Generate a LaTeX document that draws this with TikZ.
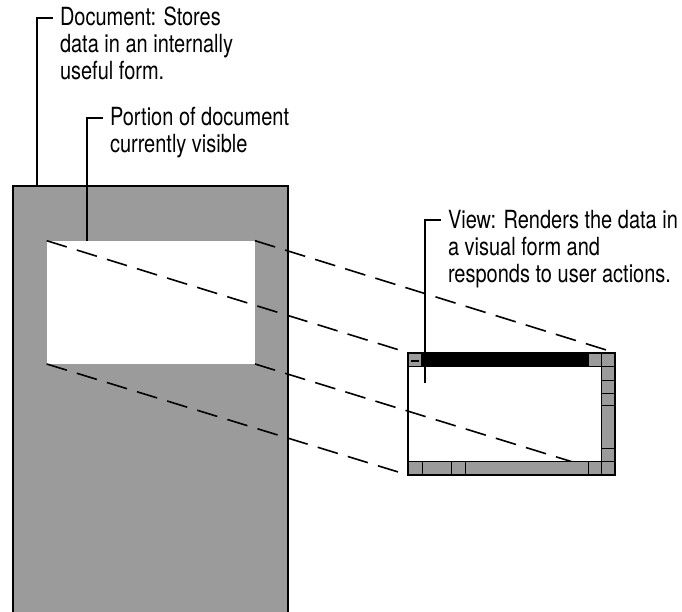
\documentclass[tikz,border=0pt]{standalone}
\usepackage{fontspec}
\setmainfont[FakeStretch=0.8]{TeX Gyre Heros}
\usetikzlibrary{calc}
\definecolor{docgray}{RGB}{155,155,155}
\begin{document}
\begin{tikzpicture}[x=1pt,y=-1pt,
  lbl/.style={align=left, inner sep=0pt, outer sep=0pt, font=\fontsize{25}{27}\selectfont, anchor=base west},
  leader/.style={line width=2pt},
  proj/.style={line width=1.6pt, dash pattern=on 21pt off 10.5pt},
  frame/.style={line width=1.8pt},
  bar/.style={fill=docgray, draw=black, line width=0.9pt},
  box/.style={inner sep=0pt, outer sep=0pt, anchor=north west}
]
\useasboundingbox (0,0) rectangle (682,612);
\clip (0,0) rectangle (682,612);
% document
\node[box, draw, line width=2pt, fill=docgray, minimum width=275.5pt, minimum height=460pt] (doc) at (12.5,186) {};
\node[box, fill=white, minimum width=208.3pt, minimum height=123.3pt] (visible) at (46.7,240.7) {};
% view window (frame drawn later)
\node[box, minimum width=207pt, minimum height=122.3pt] (view) at (408,352.7) {};
% projection lines
\draw[proj] (visible.north west) -- (view.north west);
\draw[proj] (visible.north east) -- (view.north east);
\draw[proj] (visible.south west) -- (view.south west);
\draw[proj] (visible.south east) -- (view.south east);
% window decorations
\fill[black] (421.7,352.7) rectangle (588.3,366.7);
\filldraw[bar] (408,352.7) rectangle (421.7,366.7);
\draw[line width=1.5pt] (410.5,361) -- (419,361);
\filldraw[bar] (588.3,352.7) rectangle (601.7,366.7);
\filldraw[bar] (601.7,352.7) rectangle (615,475);
\foreach \yy in {366.7,380,393.3,405,448.3,461.7} \draw[line width=0.9pt] (601.7,\yy) -- (615,\yy);
\filldraw[bar] (408,461.7) rectangle (601.7,475);
\foreach \xx in {422.7,451.7,465,588.3} \draw[line width=0.9pt] (\xx,461.7) -- (\xx,475);
\draw[line width=1pt] (408,366.7) -- (601.7,366.7);
\draw[frame] (view.north west) rectangle (view.south east);
% labels (anchor = baseline of the last line)
\node[lbl] (doclbl) at (60,80) {Document: Stores\\data in an internally\\useful form.};
\node[lbl] (portlbl) at (110,153) {Portion of document\\currently visible};
\node[lbl] (viewlbl) at (448,282) {View: Renders the data in\\a visual form and\\responds to user actions.};
\coordinate (docfoot) at (37.3,186);
\coordinate (portfoot) at (87.3,240.7);
\coordinate (viewfoot) at (425,383.3);
\draw[leader] (docfoot) |- ($(doclbl.base west)+(-7.3,-62)$);
\draw[leader] (portfoot) |- ($(portlbl.base west)+(-7.3,-35)$);
\draw[leader] (viewfoot) |- ($(viewlbl.base west)+(-7.3,-62)$);
\end{tikzpicture}
\end{document}
